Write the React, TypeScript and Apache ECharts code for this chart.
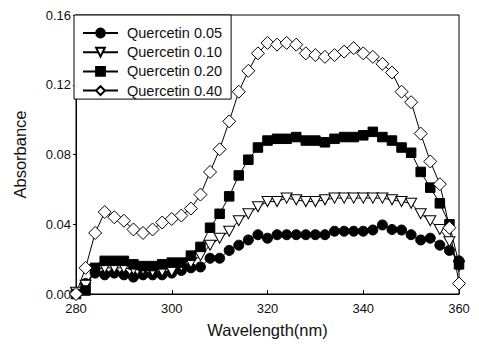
import React, { useEffect, useRef } from "react";
import * as echarts from "echarts";

const wavelengths = [
  280, 282, 284, 286, 288, 290, 292, 294, 296, 298,
  300, 302, 304, 306, 308, 310, 312, 314, 316, 318,
  320, 322, 324, 326, 328, 330, 332, 334, 336, 338,
  340, 342, 344, 346, 348, 350, 352, 354, 356, 358, 360,
];

const q005 = [
  0.001, 0.006, 0.012, 0.011, 0.012, 0.011, 0.0097, 0.011, 0.011, 0.011,
  0.012, 0.0135, 0.015, 0.0155, 0.0205, 0.0205, 0.025, 0.028, 0.031, 0.034,
  0.032, 0.034, 0.034, 0.034, 0.034, 0.034, 0.034, 0.036, 0.036, 0.036,
  0.036, 0.0367, 0.0396, 0.037, 0.0367, 0.034, 0.031, 0.032, 0.028, 0.025, 0.019,
];

const q010 = [
  0.001, 0.005, 0.014, 0.015, 0.015, 0.015, 0.014, 0.014, 0.013, 0.013,
  0.013, 0.016, 0.018, 0.022, 0.028, 0.032, 0.036, 0.042, 0.046, 0.05,
  0.053, 0.053, 0.055, 0.054, 0.053, 0.053, 0.054, 0.055, 0.055, 0.055,
  0.055, 0.055, 0.055, 0.054, 0.053, 0.052, 0.046, 0.042, 0.037, 0.03, 0.016,
];

const q020 = [
  0.0, 0.002, 0.015, 0.019, 0.019, 0.019, 0.017, 0.016, 0.016, 0.017,
  0.018, 0.018, 0.022, 0.027, 0.038, 0.046, 0.056, 0.068, 0.077, 0.084,
  0.088, 0.089, 0.089, 0.09, 0.088, 0.088, 0.087, 0.089, 0.09, 0.09,
  0.091, 0.093, 0.09, 0.088, 0.084, 0.081, 0.07, 0.061, 0.052, 0.04, 0.017,
];

const q040 = [
  0.0, 0.015, 0.035, 0.047, 0.044, 0.042, 0.037, 0.035, 0.037, 0.041,
  0.043, 0.045, 0.049, 0.057, 0.07, 0.083, 0.099, 0.116, 0.128, 0.138,
  0.144, 0.143, 0.144, 0.143, 0.138, 0.137, 0.136, 0.137, 0.139, 0.141,
  0.138, 0.136, 0.132, 0.127, 0.116, 0.11, 0.092, 0.076, 0.063, 0.038, 0.006,
];

const seriesNames = ["Quercetin 0.05", "Quercetin 0.10", "Quercetin 0.20", "Quercetin 0.40"];
const xTicks = [280, 300, 320, 340, 360];
const yTicks = [0, 0.04, 0.08, 0.12, 0.16];

const FONT = "'Liberation Sans', Arial, sans-serif";

export default function App() {
  const ref = useRef<HTMLDivElement>(null);

  useEffect(() => {
    if (!ref.current) return;
    const chart = echarts.init(ref.current, undefined, { renderer: "svg" });
    const pair = (arr: number[]) => wavelengths.map((w, i) => [w, arr[i]]);
    const base = {
      type: "line" as const,
      lineStyle: { color: "#000", width: 1 },
      emphasis: { disabled: true },
    };
    chart.setOption({
      animation: false,
      backgroundColor: "#fff",
      grid: {
        left: 76,
        right: 20,
        top: 15,
        bottom: 51,
        show: true,
        borderColor: "#000",
        borderWidth: 1,
        backgroundColor: "transparent",
      },
      legend: {
        data: seriesNames,
        orient: "vertical",
        left: 74,
        top: 15,
        padding: [10.5, 9, 1, 8],
        itemWidth: 35,
        itemHeight: 11,
        itemGap: 4.2,
        backgroundColor: "#fff",
        borderColor: "#000",
        borderWidth: 1,
        borderRadius: 0,
        textStyle: { fontFamily: FONT, fontSize: 14.5, color: "#111", padding: [0, 0, 0, 4] },
      },
      xAxis: {
        type: "value",
        min: xTicks[0],
        max: xTicks[xTicks.length - 1],
        interval: 20,
        name: "Wavelength(nm)",
        nameLocation: "middle",
        nameGap: 27,
        nameTextStyle: { fontFamily: FONT, fontSize: 16.5, color: "#111" },
        axisLine: { show: true, lineStyle: { color: "#000", width: 1 } },
        axisTick: { show: true, inside: true, length: 4, lineStyle: { color: "#000" } },
        axisLabel: { fontFamily: FONT, fontSize: 13, color: "#111", margin: 8 },
        splitLine: { show: false },
      },
      yAxis: {
        type: "value",
        min: yTicks[0],
        max: yTicks[yTicks.length - 1],
        interval: 0.04,
        name: "Absorbance",
        nameLocation: "middle",
        nameGap: 48,
        nameTextStyle: { fontFamily: FONT, fontSize: 16.5, color: "#111" },
        axisLine: { show: true, lineStyle: { color: "#000", width: 1 } },
        axisTick: { show: true, inside: false, length: 3, lineStyle: { color: "#000" } },
        axisLabel: {
          fontFamily: FONT,
          fontSize: 13,
          color: "#111",
          margin: 5,
          formatter: (v: number) => v.toFixed(2),
        },
        splitLine: { show: false },
      },
      series: [
        {
          ...base,
          name: seriesNames[0],
          data: pair(q005),
          symbol: "circle",
          symbolSize: 10,
          itemStyle: { color: "#000", borderColor: "#000", borderWidth: 1 },
        },
        {
          ...base,
          name: seriesNames[1],
          data: pair(q010),
          symbol: "triangle",
          symbolRotate: 180,
          symbolSize: [11, 10],
          itemStyle: { color: "#fff", borderColor: "#000", borderWidth: 1 },
        },
        {
          ...base,
          name: seriesNames[2],
          data: pair(q020),
          symbol: "rect",
          symbolSize: 9.5,
          itemStyle: { color: "#000", borderColor: "#000", borderWidth: 1 },
        },
        {
          ...base,
          name: seriesNames[3],
          data: pair(q040),
          symbol: "diamond",
          symbolSize: 13,
          itemStyle: { color: "#fff", borderColor: "#000", borderWidth: 1 },
        },
      ],
    });
    return () => chart.dispose();
  }, []);

  return (
    <div
      ref={ref}
      style={{ position: "fixed", left: 0, top: 0, width: 479, height: 345, background: "#fff" }}
    />
  );
}
